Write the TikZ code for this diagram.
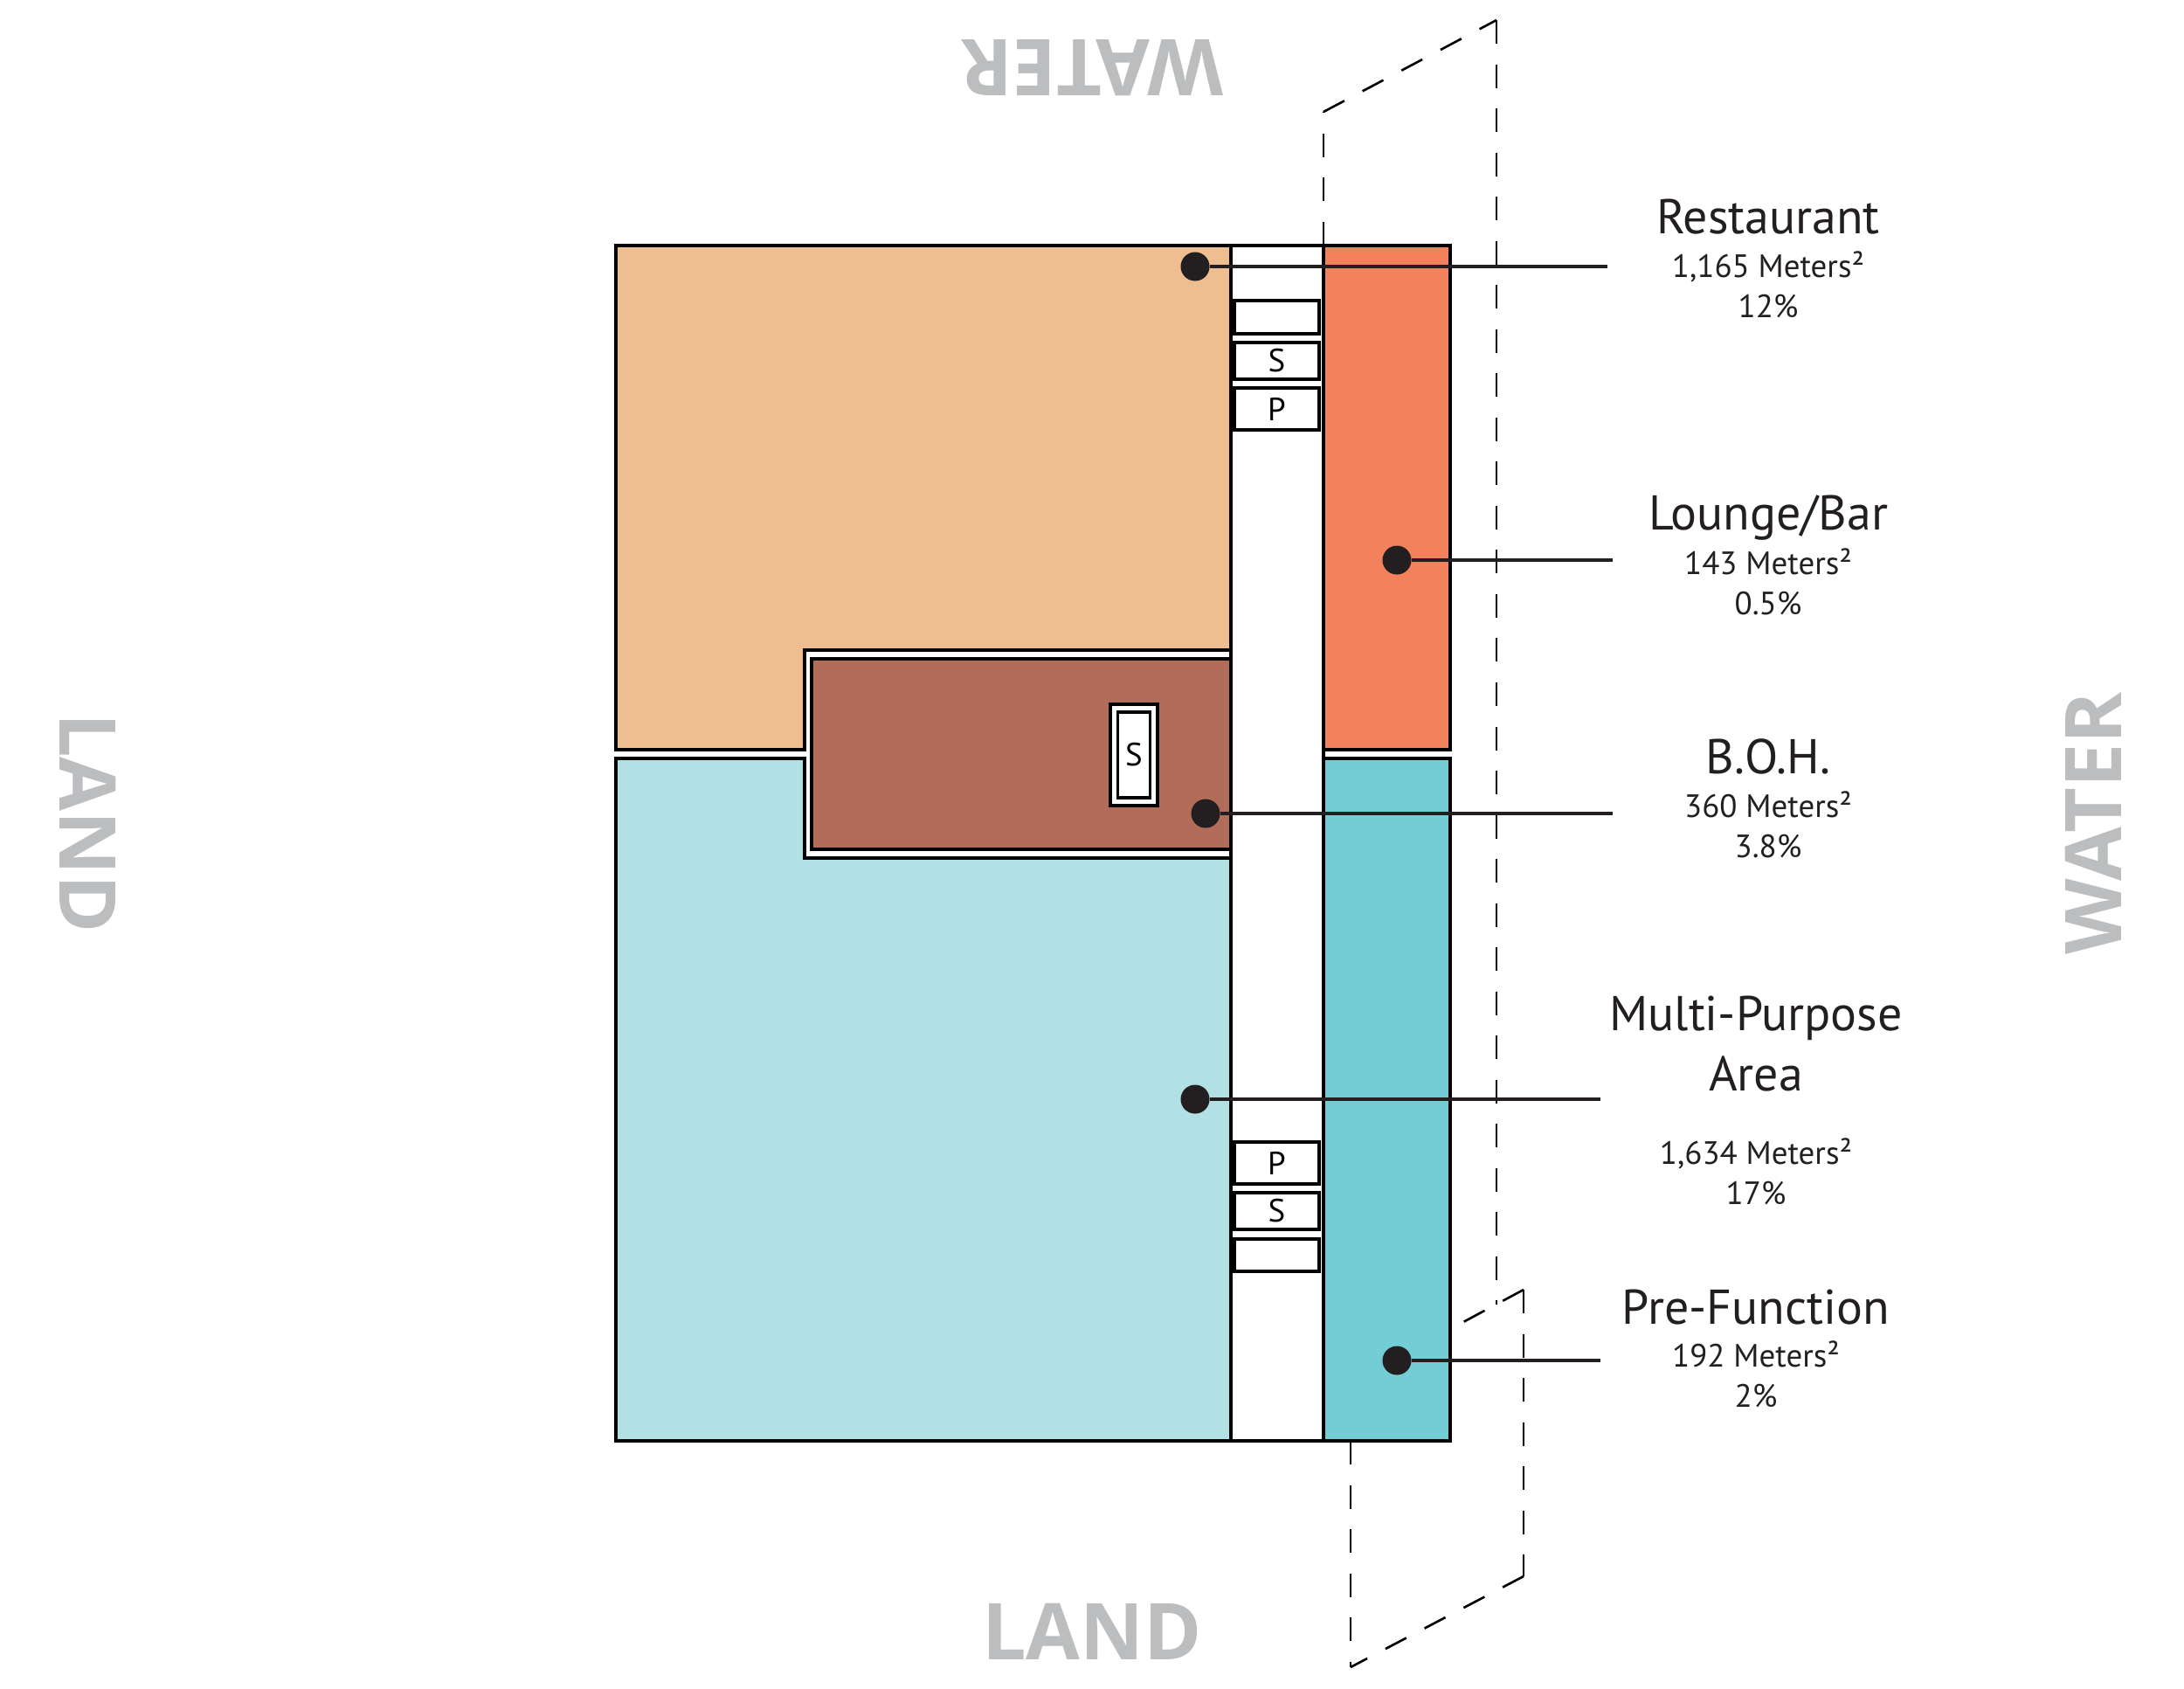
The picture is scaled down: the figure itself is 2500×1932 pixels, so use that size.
\documentclass[tikz,border=0pt]{standalone}
\usepackage{fontspec}
\usepackage{xcolor}
\setmainfont{PT Sans}
\newfontfamily\sidefont{Open Sans}
\definecolor{tancol}{HTML}{EEBE90}
\definecolor{orangecol}{HTML}{F3825C}
\definecolor{browncol}{HTML}{B26D5A}
\definecolor{palecol}{HTML}{B1E0E5}
\definecolor{tealcol}{HTML}{73CDD5}
\definecolor{inkcol}{HTML}{231F20}
\definecolor{graycol}{HTML}{BBBDBF}
\tikzset{
    room/.style={draw=black, line width=1.1pt},
    closet/.style={draw=black, fill=white, line width=0.9pt, minimum width=0.97cm, inner sep=0pt, font=\fontsize{10.5}{12}\selectfont},
    pin/.style={circle, fill=inkcol, minimum size=0.33cm, inner sep=0pt},
    leader/.style={draw=inkcol, line width=1.4pt},
    outline/.style={draw=black, line width=0.75pt, dash pattern=on 0.27cm off 0.235cm},
    title/.style={font=\fontsize{15.9}{19.5}\selectfont, align=center, text=inkcol, text height=0.4cm, text depth=0.1cm},
    figure/.style={font=\fontsize{10.5}{13}\selectfont, align=center, text=inkcol},
    side/.style={font=\fontsize{25.5}{30}\sidefont\bfseries, text=graycol}
}
\begin{document}
\begin{tikzpicture}[x=0.01cm, y=-0.01cm]
\useasboundingbox (0,0) rectangle (2500,1932);

% site outlines, behind the plan
\draw[outline] (1515,281) -- (1515,128);
\draw[outline] (1515,128) -- (1713,23);
\draw[outline] (1713,23) -- (1713,1493);
\draw[outline] (1744,1476) -- (1675,1513);
\draw[outline] (1744,1476) -- (1744,1804);
\draw[outline] (1744,1804) -- (1546,1908);
\draw[outline] (1546,1649) -- (1546,1908);

% rooms
\path[room, fill=white] (1409,281) rectangle (1515,1649);
\path[room, fill=tancol] (705,281) -- (1409,281) -- (1409,744) -- (921,744) -- (921,858) -- (705,858) -- cycle;
\path[room, fill=palecol] (705,868) -- (921,868) -- (921,982) -- (1409,982) -- (1409,1649) -- (705,1649) -- cycle;
\path[room, fill=browncol] (929,754) rectangle (1409,972);
\path[room, fill=orangecol] (1515,281) rectangle (1660,858);
\path[room, fill=tealcol] (1515,868) rectangle (1660,1649);

% closets
\node[closet, minimum height=0.38cm] (blankA) at (1461.5,363) {};
\node[closet, minimum height=0.42cm] (stairA) at (1461.5,413) {S};
\node[closet, minimum height=0.48cm] (liftA) at (1461.5,468) {P};
\node[closet, minimum height=0.48cm] (liftB) at (1461.5,1331) {P};
\node[closet, minimum height=0.42cm] (stairB) at (1461.5,1386) {S};
\node[closet, minimum height=0.37cm] (blankB) at (1461.5,1436.5) {};
\node[closet, minimum width=0.54cm, minimum height=1.16cm] (stairOuter) at (1298,864) {};
\node[closet, minimum width=0.37cm, minimum height=0.98cm] (stairC) at (1298,864) {S};

% leaders
\node[pin] (restaurant) at (1368,305) {};
\node[pin] (lounge) at (1599,641) {};
\node[pin] (boh) at (1380,931) {};
\node[pin] (multi) at (1368,1258) {};
\node[pin] (prefunction) at (1599,1557) {};
\coordinate (restaurantEnd) at (1840,305);
\coordinate (loungeEnd) at (1846,641);
\coordinate (bohEnd) at (1846,931);
\coordinate (multiEnd) at (1832,1258);
\coordinate (prefunctionEnd) at (1832,1557);
\path[leader] (restaurant) -- (restaurantEnd);
\path[leader] (lounge) -- (loungeEnd);
\path[leader] (boh) -- (bohEnd);
\path[leader] (multi) -- (multiEnd);
\path[leader] (prefunction) -- (prefunctionEnd);

% labels
\node[title] (restaurantT) at (2024,252) {Restaurant};
\node[figure] (restaurantF) at (2024,326) {1,165 Meters²\\12\%};
\node[title] (loungeT) at (2024,591) {Lounge/Bar};
\node[figure] (loungeF) at (2024,666) {143 Meters²\\0.5\%};
\node[title] (bohT) at (2024,870) {B.O.H.};
\node[figure] (bohF) at (2024,944) {360 Meters²\\3.8\%};
\node[title] (multiT) at (2010,1233) {Multi-Purpose\\Area};
\node[figure] (multiF) at (2010,1341) {1,634 Meters²\\17\%};
\node[title] (prefunctionT) at (2010,1500) {Pre-Function};
\node[figure] (prefunctionF) at (2010,1573) {192 Meters²\\2\%};

% compass words
\node[side, rotate=180] (waterTop) at (1250,78) {WATER};
\node[side] (landBottom) at (1250,1867) {LAND};
\node[side, rotate=-90] (landLeft) at (101,942) {LAND};
\node[side, rotate=90] (waterRight) at (2396,942) {WATER};
\end{tikzpicture}
\end{document}
